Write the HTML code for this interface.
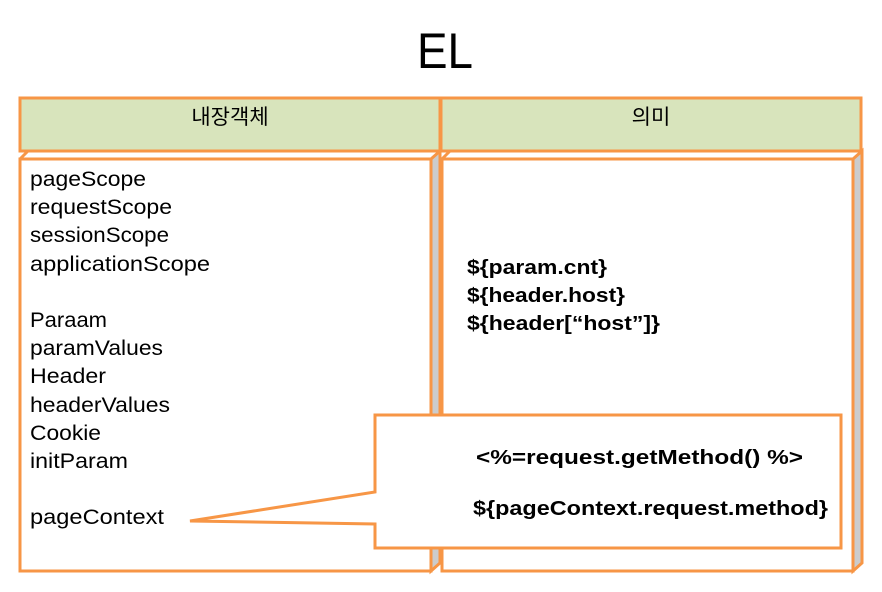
<!DOCTYPE html>
<html><head><meta charset="utf-8"><style>html,body{margin:0;padding:0;background:#fff}svg{display:block}</style></head>
<body>
<svg width="882" height="592" viewBox="0 0 882 592" xmlns="http://www.w3.org/2000/svg" font-family="Liberation Sans, Noto Sans CJK KR, sans-serif">
<text x="445" y="68" font-size="50" text-anchor="middle" fill="#000" textLength="56" lengthAdjust="spacingAndGlyphs">EL</text>
<rect x="20" y="98" width="420" height="53" fill="#d8e4bc" stroke="#f79646" stroke-width="3"/>
<rect x="441" y="98" width="420" height="53" fill="#d8e4bc" stroke="#f79646" stroke-width="3"/>
<text x="230" y="124" font-size="21" text-anchor="middle">내장객체</text>
<text x="651" y="124" font-size="21" text-anchor="middle">의미</text>
<polygon points="431,159 440,151 440,563 431,571" fill="#cccccc" stroke="#f79646" stroke-width="3"/>
<line x1="20" y1="159" x2="28" y2="151" stroke="#f79646" stroke-width="3"/>
<rect x="20" y="159" width="411" height="412" fill="#fff" stroke="#f79646" stroke-width="3"/>
<polygon points="853,159 862,151 862,563 853,571" fill="#cccccc" stroke="#f79646" stroke-width="3"/>
<line x1="442" y1="159" x2="450" y2="151" stroke="#f79646" stroke-width="3"/>
<rect x="442" y="159" width="411" height="412" fill="#fff" stroke="#f79646" stroke-width="3"/>
<g font-size="21" fill="#000">
<text x="30" y="186" textLength="116" lengthAdjust="spacingAndGlyphs">pageScope</text>
<text x="30" y="214" textLength="142" lengthAdjust="spacingAndGlyphs">requestScope</text>
<text x="30" y="242" textLength="139" lengthAdjust="spacingAndGlyphs">sessionScope</text>
<text x="30" y="271" textLength="180" lengthAdjust="spacingAndGlyphs">applicationScope</text>
<text x="30" y="327" textLength="77" lengthAdjust="spacingAndGlyphs">Paraam</text>
<text x="30" y="355" textLength="133" lengthAdjust="spacingAndGlyphs">paramValues</text>
<text x="30" y="383" textLength="76" lengthAdjust="spacingAndGlyphs">Header</text>
<text x="30" y="412" textLength="140" lengthAdjust="spacingAndGlyphs">headerValues</text>
<text x="30" y="440" textLength="71" lengthAdjust="spacingAndGlyphs">Cookie</text>
<text x="30" y="468" textLength="98" lengthAdjust="spacingAndGlyphs">initParam</text>
<text x="30" y="524" textLength="134" lengthAdjust="spacingAndGlyphs">pageContext</text>
</g>
<g font-size="20" font-weight="bold" fill="#000">
<text x="467" y="274" textLength="140" lengthAdjust="spacingAndGlyphs">${param.cnt}</text>
<text x="467" y="302" textLength="158" lengthAdjust="spacingAndGlyphs">${header.host}</text>
<text x="467" y="330" textLength="193" lengthAdjust="spacingAndGlyphs">${header[“host”]}</text>
</g>
<path d="M375,415 L841,415 L841,548 L375,548 L375,524 L190,521 L375,492 Z" fill="#fff" stroke="#f79646" stroke-width="3"/>
<g font-size="20" font-weight="bold" fill="#000">
<text x="476" y="464" textLength="327" lengthAdjust="spacingAndGlyphs">&lt;%=request.getMethod() %&gt;</text>
<text x="473" y="515" textLength="355" lengthAdjust="spacingAndGlyphs">${pageContext.request.method}</text>
</g>
</svg>
</body></html>
